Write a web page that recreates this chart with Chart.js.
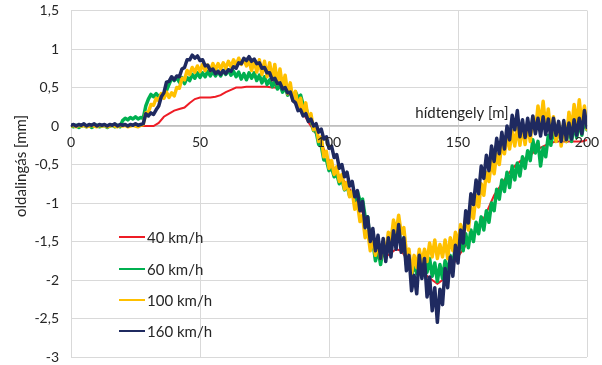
<!DOCTYPE html>
<html lang="hu">
<head>
<meta charset="utf-8">
<title>oldalingás</title>
<script src="https://cdn.jsdelivr.net/npm/chart.js@4"></script>
<style>
  html, body { margin: 0; padding: 0; background: #fff; }
  #wrap { width: 602px; height: 365px; position: relative; }
</style>
</head>
<body>
<div id="wrap"><canvas id="grafikon"></canvas></div>
<script>
// hídtengely menti pozíció lépésköze [m]
const LEPES = 1;
const LEPES_40 = 2;

const CIMKEK = ['40 km/h', '60 km/h', '100 km/h', '160 km/h'];
const SZINEK = ['#ee1c25', '#00b050', '#ffc000', '#1f2a60'];

// 40 km/h, 2 m-enként
const oldal40 = [
  0, 0, 0, 0, 0, 0, 0, 0, 0, 0, 0, 0, 0, 0, 0, 0,
  0.0, 0.04, 0.12, 0.16, 0.2, 0.22, 0.24, 0.3, 0.35, 0.37,
  0.37, 0.37, 0.38, 0.4, 0.44, 0.47, 0.5, 0.5, 0.51, 0.51,
  0.51, 0.51, 0.51, 0.5, 0.5, 0.5, 0.49, 0.42, 0.3, 0.17,
  0.05, -0.05, -0.16, -0.3, -0.45, -0.55, -0.65, -0.72, -0.82, -0.92,
  -1.05, -1.2, -1.35, -1.5, -1.62, -1.7, -1.65, -1.6, -1.62, -1.72,
  -1.85, -1.9, -1.9, -1.95, -2.0, -2.05, -2.0, -1.9, -1.8, -1.7,
  -1.6, -1.5, -1.4, -1.3, -1.2, -1.05, -0.9, -0.8, -0.7, -0.6,
  -0.52, -0.46, -0.42, -0.38, -0.32, -0.28, -0.25, -0.22, -0.2, -0.2,
  -0.2, -0.2, -0.2, -0.2, -0.18
];

// 60 km/h, 1 m-enként
const oldal60 = [
  0.0, -0.01, 0.01, -0.02, 0.0, 0.01, -0.01, 0.01, -0.02, 0.0,
  0.01, -0.01, 0.0, 0.01, -0.02, 0.0, 0.01, -0.01, 0.01, -0.01,
  0.07, 0.1, 0.08, 0.11, 0.09, 0.12, 0.09, 0.11, 0.1, 0.26,
  0.35, 0.41, 0.38, 0.42, 0.38, 0.41, 0.39, 0.46, 0.54, 0.62,
  0.59, 0.63, 0.57, 0.63, 0.55, 0.63, 0.59, 0.67, 0.62, 0.69,
  0.63, 0.69, 0.64, 0.71, 0.65, 0.71, 0.65, 0.71, 0.65, 0.72,
  0.67, 0.73, 0.66, 0.71, 0.64, 0.7, 0.61, 0.68, 0.6, 0.69,
  0.62, 0.69, 0.59, 0.66, 0.56, 0.64, 0.54, 0.6, 0.51, 0.58,
  0.48, 0.54, 0.44, 0.5, 0.4, 0.46, 0.38, 0.44, 0.37, 0.4,
  0.27, 0.25, 0.1, 0.09, -0.06, -0.07, -0.24, -0.26, -0.44, -0.44,
  -0.58, -0.54, -0.66, -0.62, -0.75, -0.69, -0.83, -0.77, -0.91, -0.85,
  -0.97, -0.85, -0.97, -0.95, -1.18, -1.18, -1.55, -1.5, -1.75, -1.6,
  -1.8, -1.58, -1.72, -1.45, -1.6, -1.35, -1.52, -1.32, -1.58, -1.48,
  -1.8, -1.7, -1.95, -1.75, -1.92, -1.7, -1.88, -1.68, -1.9, -1.72,
  -1.95, -1.78, -2.02, -1.8, -1.98, -1.75, -1.92, -1.68, -1.82, -1.55,
  -1.7, -1.45, -1.62, -1.4, -1.58, -1.35, -1.5, -1.25, -1.4, -1.18,
  -1.35, -1.1, -1.25, -1.0, -1.1, -0.82, -0.95, -0.7, -0.85, -0.6,
  -0.8, -0.52, -0.7, -0.48, -0.65, -0.4, -0.55, -0.32, -0.45, -0.18,
  -0.35, -0.2, -0.52, -0.28, -0.4, -0.12, -0.25, -0.02, -0.2, -0.02,
  -0.2, 0.02, -0.2, -0.02, -0.2, 0.02, -0.15, 0.05, -0.12, 0.08,
  -0.05
];

// 100 km/h, 1 m-enként
const oldal100 = [
  0.0, 0.01, -0.01, 0.01, 0.0, 0.01, -0.01, 0.0, 0.01, 0.0,
  -0.01, 0.01, 0.0, 0.01, -0.01, 0.0, 0.01, 0.0, -0.01, 0.01,
  0.0, 0.01, -0.01, 0.0, 0.01, 0.0, -0.01, 0.01, 0.02, 0.17,
  0.18, 0.28, 0.27, 0.36, 0.33, 0.42, 0.36, 0.44, 0.37, 0.43,
  0.39, 0.5, 0.49, 0.62, 0.6, 0.72, 0.67, 0.76, 0.7, 0.78,
  0.71, 0.8, 0.72, 0.79, 0.72, 0.81, 0.73, 0.81, 0.74, 0.82,
  0.75, 0.84, 0.77, 0.86, 0.79, 0.88, 0.8, 0.87, 0.78, 0.85,
  0.72, 0.86, 0.7, 0.86, 0.67, 0.84, 0.64, 0.82, 0.6, 0.8,
  0.55, 0.74, 0.5, 0.66, 0.42, 0.56, 0.33, 0.45, 0.24, 0.36,
  0.15, 0.3, 0.07, 0.16, -0.05, 0.02, -0.2, -0.14, -0.4, -0.33,
  -0.55, -0.45, -0.63, -0.53, -0.72, -0.63, -0.82, -0.73, -0.92, -0.85,
  -1.08, -1.0, -1.24, -1.16, -1.45, -1.36, -1.62, -1.45, -1.68, -1.52,
  -1.72, -1.5, -1.65, -1.38, -1.5, -1.22, -1.38, -1.16, -1.4, -1.32,
  -1.65, -1.6, -1.92, -1.68, -1.84, -1.6, -1.78, -1.6, -1.76, -1.52,
  -1.7, -1.48, -1.72, -1.54, -1.7, -1.48, -1.72, -1.45, -1.62, -1.38,
  -1.55, -1.28, -1.45, -1.18, -1.35, -1.05, -1.2, -0.9, -1.05, -0.75,
  -0.9, -0.6, -0.72, -0.45, -0.62, -0.36, -0.5, -0.22, -0.36, -0.12,
  -0.3, -0.06, -0.26, -0.02, -0.25, 0.0, -0.24, 0.03, -0.2, 0.12,
  -0.08, 0.26, 0.02, 0.32, -0.02, 0.22, -0.12, 0.12, -0.2, 0.05,
  -0.26, 0.04, -0.2, 0.18, -0.05, 0.28, 0.02, 0.34, 0.02, 0.26,
  -0.04
];

// 160 km/h, 1 m-enként
const oldal160 = [
  0.01, 0.02, 0.0, 0.02, 0.01, 0.03, 0.0, 0.02, 0.01, 0.03,
  0.0, 0.02, 0.01, 0.02, 0.0, 0.02, 0.01, 0.03, 0.0, 0.02,
  0.01, 0.02, 0.0, 0.02, 0.01, 0.03, 0.01, 0.02, 0.03, 0.16,
  0.13, 0.17, 0.15, 0.21, 0.26, 0.38, 0.43, 0.57, 0.58, 0.64,
  0.6, 0.65, 0.64, 0.74, 0.76, 0.86, 0.86, 0.92, 0.88, 0.91,
  0.85, 0.86, 0.78, 0.79, 0.72, 0.74, 0.68, 0.71, 0.67, 0.72,
  0.68, 0.73, 0.71, 0.77, 0.75, 0.82, 0.81, 0.88, 0.85, 0.9,
  0.84, 0.87, 0.81, 0.82, 0.75, 0.76, 0.69, 0.69, 0.6, 0.62,
  0.55, 0.56, 0.48, 0.5, 0.43, 0.44, 0.33, 0.3, 0.2, 0.21,
  0.13, 0.16, 0.06, 0.09, 0.0, 0.03, -0.08, -0.04, -0.17, -0.14,
  -0.29, -0.26, -0.41, -0.37, -0.55, -0.5, -0.66, -0.6, -0.78, -0.72,
  -0.92, -0.84, -1.1, -0.98, -1.32, -1.18, -1.5, -1.33, -1.62, -1.42,
  -1.72, -1.46, -1.76, -1.45, -1.7, -1.36, -1.6, -1.28, -1.64, -1.45,
  -1.88, -1.68, -2.14, -1.94, -2.18, -1.68, -1.98, -1.72, -2.22, -1.96,
  -2.4, -2.1, -2.55, -2.12, -2.32, -1.85, -2.1, -1.7, -1.95, -1.55,
  -1.78, -1.35, -1.52, -1.1, -1.26, -0.88, -1.02, -0.7, -0.88, -0.52,
  -0.68, -0.38, -0.58, -0.26, -0.46, -0.16, -0.36, -0.08, -0.3, 0.0,
  -0.18, 0.14, -0.05, 0.2, -0.14, 0.08, -0.15, 0.1, -0.12, 0.13,
  -0.1, 0.1, -0.13, 0.12, -0.11, 0.09, -0.16, 0.1, -0.12, 0.06,
  -0.2, 0.07, -0.18, 0.04, -0.17, 0.08, -0.12, 0.1, -0.1, 0.2,
  -0.02
];

const BETU = 'Lato, "Open Sans", sans-serif';

function pontok(ertekek, lepes) {
  return ertekek.map((v, i) => ({ x: i * lepes, y: v }));
}

function vesszos(v) {
  return String(v).replace('.', ',');
}

// a feliratok ne toljak el a rajzterületet
function nincsPadding(s) {
  s.paddingTop = 0;
  s.paddingBottom = 0;
  s.paddingLeft = 0;
  s.paddingRight = 0;
}

// tengelycímek és a diagramon belüli jelmagyarázat
const feliratok = {
  id: 'feliratok',
  afterDraw(chart) {
    const ctx = chart.ctx;
    ctx.save();
    ctx.fillStyle = '#262626';
    ctx.font = '15px ' + BETU;
    ctx.textBaseline = 'middle';

    ctx.textAlign = 'center';
    ctx.fillText('hídtengely [m]', 462, 113);

    ctx.save();
    ctx.translate(21, 166);
    ctx.rotate(-Math.PI / 2);
    ctx.fillText('oldalingás [mm]', 0, 0);
    ctx.restore();

    const sorok = [237, 269, 300, 331];
    ctx.textAlign = 'left';
    CIMKEK.forEach((c, i) => {
      ctx.strokeStyle = SZINEK[i];
      ctx.lineWidth = 2;
      ctx.beginPath();
      ctx.moveTo(119, sorok[i]);
      ctx.lineTo(145, sorok[i]);
      ctx.stroke();
      ctx.fillText(c, 147, sorok[i] + 1);
    });
    ctx.restore();
  }
};

const zajos = { borderWidth: 3.5, borderJoinStyle: 'round', borderCapStyle: 'round' };

new Chart(document.getElementById('grafikon'), {
  type: 'line',
  data: {
    datasets: [
      { label: CIMKEK[0], data: pontok(oldal40, LEPES_40), borderColor: SZINEK[0], borderWidth: 2, order: 3 },
      { label: CIMKEK[1], data: pontok(oldal60, LEPES), borderColor: SZINEK[1], order: 2, ...zajos },
      { label: CIMKEK[2], data: pontok(oldal100, LEPES), borderColor: SZINEK[2], order: 1, ...zajos },
      { label: CIMKEK[3], data: pontok(oldal160, LEPES), borderColor: SZINEK[3], order: 0, ...zajos },
    ],
  },
  options: {
    responsive: true,
    maintainAspectRatio: false,
    animation: false,
    elements: { point: { radius: 0 }, line: { tension: 0 } },
    layout: { padding: { top: 10.5, right: 15, bottom: 8, left: 0 } },
    plugins: { legend: { display: false }, tooltip: { enabled: false } },
    scales: {
      x: {
        type: 'linear',
        position: { y: 0 },
        min: 0,
        max: 200,
        ticks: { stepSize: 50, padding: 8, color: '#262626', font: { family: BETU, size: 14 }, z: 1, maxRotation: 0 },
        grid: { color: '#d9d9d9', drawTicks: false },
        border: { color: '#bfbfbf', width: 1.5 },
        afterFit: nincsPadding,
      },
      y: {
        min: -3,
        max: 1.5,
        ticks: { stepSize: 0.5, padding: 12, color: '#262626', font: { family: BETU, size: 14 }, callback: vesszos },
        grid: { color: '#d9d9d9', drawTicks: false },
        border: { color: '#d9d9d9' },
        afterFit(s) {
          s.width = 71;
          nincsPadding(s);
        },
      },
    },
  },
  plugins: [feliratok],
});
</script>
</body>
</html>
